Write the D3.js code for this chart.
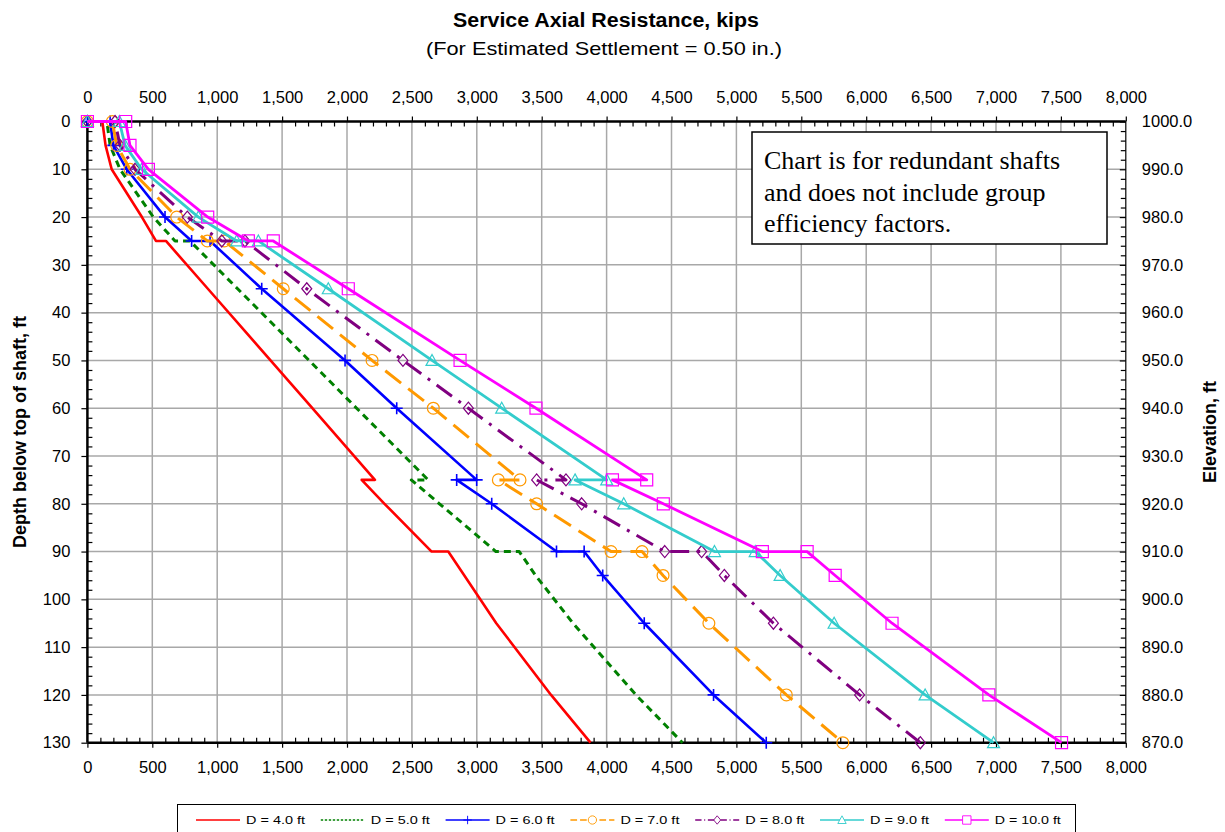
<!DOCTYPE html>
<html>
<head>
<meta charset="utf-8">
<script src="https://cdn.jsdelivr.net/npm/d3@7"></script>
<style>
  body { margin: 0; background: #fff; }
  svg { display: block; font-family: "Liberation Sans", Arial, sans-serif; }
  text { fill: #000; }
</style>
</head>
<body>
<svg id="chart" width="1225" height="832"></svg>
<script>
// Depth below top of shaft (ft) for every point of each curve.
// Repeated depths mark the steps where the resistance jumps at a layer boundary.
const depths = [0, 0, 5, 10, 20, 25, 25, 35, 50, 60, 75, 75, 80, 90, 90, 95, 105, 120, 130];

// Service axial resistance (kips) per shaft diameter
const loadD4  = [0, 115, 140, 187, 420, 528, 605, 928, 1411, 1733, 2215, 2113, 2289, 2652, 2780, 2904, 3150, 3572, 3876];
const loadD5  = [0, 150, 175, 251, 508, 675, 790, 1157, 1708, 2074, 2625, 2495, 2712, 3147, 3327, 3453, 3741, 4226, 4585];
const loadD6  = [0, 175, 200, 303, 598, 803, 945, 1343, 1985, 2383, 2999, 2845, 3115, 3614, 3827, 3970, 4290, 4824, 5230];
const loadD7  = [0, 192, 226, 328, 688, 924, 1055, 1509, 2193, 2665, 3333, 3166, 3461, 4034, 4273, 4435, 4788, 5385, 5820];
const loadD8  = [0, 213, 251, 367, 770, 1035, 1214, 1690, 2431, 2935, 3687, 3461, 3808, 4448, 4732, 4907, 5285, 5949, 6417];
const loadD9  = [0, 246, 290, 418, 855, 1150, 1317, 1856, 2655, 3192, 4001, 3757, 4132, 4831, 5145, 5337, 5753, 6454, 6981];
const loadD10 = [0, 295, 328, 470, 927, 1240, 1432, 2010, 2871, 3456, 4309, 4045, 4437, 5200, 5545, 5761, 6199, 6945, 7505];

const seriesNames = ["D = 4.0 ft", "D = 5.0 ft", "D = 6.0 ft", "D = 7.0 ft", "D = 8.0 ft", "D = 9.0 ft", "D = 10.0 ft"];

// Axis tick values
const loadTicks = d3.range(0, 8001, 500);
const depthTicks = d3.range(0, 131, 10);
const elevationLabels = ["1000.0", "990.0", "980.0", "970.0", "960.0", "950.0", "940.0", "930.0", "920.0", "910.0", "900.0", "890.0", "880.0", "870.0"];

const noteLines = ["Chart is for redundant shafts", "and does not include group", "efficiency factors."];

const svg = d3.select("#chart");

const x = d3.scaleLinear().domain([0, 8000]).range([87.4, 1125.8]);
const y = d3.scaleLinear().domain([0, 130]).range([121.5, 742.7]);

// ---- grid ----
const grid = svg.append("g").attr("stroke", "#a8a8a8").attr("stroke-width", 1.5);
grid.selectAll("line.v").data(loadTicks.slice(1, -1)).join("line")
  .attr("x1", d => x(d)).attr("x2", d => x(d))
  .attr("y1", y(0)).attr("y2", y(130));
grid.selectAll("line.h").data(depthTicks.slice(1, -1)).join("line")
  .attr("x1", x(0)).attr("x2", x(8000))
  .attr("y1", d => y(d)).attr("y2", d => y(d));

// ---- axes (ticks drawn through d3 axis generators) ----
const fmt = d3.format(",");
const minorLoad = d3.range(0, 8001, 100).filter(d => d % 500 !== 0);
const minorDepth = d3.range(0, 131, 2).filter(d => d % 10 !== 0);

function styleAxis(g) {
  g.attr("font-family", null);
  g.select(".domain").remove();
  g.selectAll(".tick line").attr("stroke", "#000").attr("stroke-width", 1.2);
  g.selectAll("text").attr("font-size", 16.5).attr("fill", "#000");
}

// top
svg.append("g").attr("transform", `translate(0,${y(0)})`)
  .call(d3.axisTop(x).tickValues(minorLoad).tickSize(-5).tickFormat(""))
  .call(styleAxis);
svg.append("g").attr("transform", `translate(0,${y(0)})`)
  .call(d3.axisTop(x).tickValues(loadTicks).tickSizeInner(5).tickSizeOuter(0).tickPadding(14).tickFormat(fmt))
  .call(styleAxis);
// bottom
svg.append("g").attr("transform", `translate(0,${y(130)})`)
  .call(d3.axisBottom(x).tickValues(minorLoad).tickSize(-5).tickFormat(""))
  .call(styleAxis);
svg.append("g").attr("transform", `translate(0,${y(130)})`)
  .call(d3.axisBottom(x).tickValues(loadTicks).tickSizeInner(5).tickSizeOuter(0).tickPadding(14).tickFormat(fmt))
  .call(styleAxis);
// left
svg.append("g").attr("transform", `translate(${x(0)},0)`)
  .call(d3.axisLeft(y).tickValues(minorDepth).tickSize(-5).tickFormat(""))
  .call(styleAxis);
svg.append("g").attr("transform", `translate(${x(0)},0)`)
  .call(d3.axisLeft(y).tickValues(depthTicks).tickSizeInner(6).tickSizeOuter(0).tickPadding(11))
  .call(styleAxis);
// right (elevation)
svg.append("g").attr("transform", `translate(${x(8000)},0)`)
  .call(d3.axisRight(y).tickValues(minorDepth).tickSize(-5).tickFormat(""))
  .call(styleAxis);
svg.append("g").attr("transform", `translate(${x(8000)},0)`)
  .call(d3.axisRight(y).tickValues(depthTicks).tickSizeInner(-6).tickSizeOuter(0).tickPadding(16)
    .tickFormat((d, i) => elevationLabels[i]))
  .call(styleAxis);

// plot frame
svg.append("line").attr("x1", x(0)).attr("x2", x(8000)).attr("y1", y(0)).attr("y2", y(0)).attr("stroke", "#000").attr("stroke-width", 2.5);
svg.append("line").attr("x1", x(0)).attr("x2", x(8000)).attr("y1", y(130)).attr("y2", y(130)).attr("stroke", "#000").attr("stroke-width", 2.5);
svg.append("line").attr("x1", x(0)).attr("x2", x(0)).attr("y1", y(0)).attr("y2", y(130)).attr("stroke", "#000").attr("stroke-width", 2.5);
svg.append("line").attr("x1", x(8000)).attr("x2", x(8000)).attr("y1", y(0)).attr("y2", y(130)).attr("stroke", "#000").attr("stroke-width", 1.2);

// ---- series ----
const markers = {
  none: null,
  plus: "M-6,0H6M0,-6V6",
  circle: d3.symbol(d3.symbolCircle, 110)(),
  diamond: "M0,-6L5,0L0,6L-5,0Z",
  triangle: "M0,-6L6,5H-6Z",
  square: "M-6,-6H6V6H-6Z"
};

const series = [
  { name: seriesNames[0], values: loadD4,  color: "#ff0000", dash: null,       marker: "none",     width: 2.6 },
  { name: seriesNames[1], values: loadD5,  color: "#008000", dash: "7,5",      marker: "none",     width: 3 },
  { name: seriesNames[2], values: loadD6,  color: "#0000ff", dash: null,       marker: "plus",     width: 2.6 },
  { name: seriesNames[3], values: loadD7,  color: "#ff9900", dash: "20,9",     marker: "circle",   width: 3 },
  { name: seriesNames[4], values: loadD8,  color: "#800080", dash: "19,8,3,8", marker: "diamond",  width: 3 },
  { name: seriesNames[5], values: loadD9,  color: "#33cccc", dash: null,       marker: "triangle", width: 2.8 },
  { name: seriesNames[6], values: loadD10, color: "#ff00ff", dash: null,       marker: "square",   width: 2.8 }
];

const line = d3.line().x(d => x(d[0])).y(d => y(d[1]));

series.forEach(s => {
  const pts = s.values.map((v, i) => [v, depths[i]]);
  const g = svg.append("g");
  g.append("path").datum(pts)
    .attr("d", line)
    .attr("fill", "none")
    .attr("stroke", s.color)
    .attr("stroke-width", s.width)
    .attr("stroke-linejoin", "round")
    .attr("stroke-dasharray", s.dash);
  if (markers[s.marker]) {
    g.selectAll("path.m").data(pts).join("path")
      .attr("class", "m")
      .attr("transform", d => `translate(${x(d[0])},${y(d[1])})`)
      .attr("d", markers[s.marker])
      .attr("fill", "none")
      .attr("stroke", s.color)
      .attr("stroke-width", s.marker === "plus" ? 1.6 : 1.2);
  }
});

// ---- titles ----
svg.append("text").attr("x", 606).attr("y", 27).attr("text-anchor", "middle")
  .attr("font-size", 20).attr("font-weight", "bold")
  .attr("textLength", 306).attr("lengthAdjust", "spacingAndGlyphs")
  .text("Service Axial Resistance, kips");
svg.append("text").attr("x", 604).attr("y", 55).attr("text-anchor", "middle")
  .attr("font-size", 19)
  .attr("textLength", 356).attr("lengthAdjust", "spacingAndGlyphs")
  .text("(For Estimated Settlement = 0.50 in.)");
svg.append("text").attr("transform", `translate(26,${(y(0) + y(130)) / 2}) rotate(-90)`)
  .attr("text-anchor", "middle").attr("font-size", 18).attr("font-weight", "bold")
  .text("Depth below top of shaft, ft");
svg.append("text").attr("transform", `translate(1216,${(y(0) + y(130)) / 2}) rotate(-90)`)
  .attr("text-anchor", "middle").attr("font-size", 18).attr("font-weight", "bold")
  .text("Elevation, ft");

// ---- note box ----
const note = svg.append("g");
note.append("rect").attr("x", 752).attr("y", 132).attr("width", 355).attr("height", 112)
  .attr("fill", "#fff").attr("stroke", "#000").attr("stroke-width", 1.5);
note.selectAll("text").data(noteLines).join("text")
  .attr("x", 764).attr("y", (d, i) => 169 + i * 31.5)
  .style("font-family", "'Liberation Serif', 'Times New Roman', serif")
  .attr("font-size", 26)
  .text(d => d);

// ---- legend ----
const legend = svg.append("g");
legend.append("rect").attr("x", 177.5).attr("y", 804.5).attr("width", 898).attr("height", 40)
  .attr("fill", "#fff").attr("stroke", "#000").attr("stroke-width", 1);
series.forEach((s, i) => {
  const x0 = 196 + i * 124.8;
  const g = legend.append("g").attr("transform", `translate(${x0},820)`);
  g.append("line").attr("x1", 0).attr("x2", 44).attr("y1", 0).attr("y2", 0)
    .attr("stroke", s.color).attr("stroke-width", 1.3)
    .attr("stroke-dasharray", s.dash ? s.dash.split(",").map(v => v / 3).join(",") : null);
  if (markers[s.marker]) {
    g.append("path").attr("transform", "translate(22,0) scale(0.7)")
      .attr("d", markers[s.marker]).attr("fill", "#fff")
      .attr("stroke", s.color).attr("stroke-width", 1.3);
  }
  g.append("text").attr("x", 50).attr("y", 4).attr("font-size", 11.5)
    .attr("textLength", i === 6 ? 66 : 59).attr("lengthAdjust", "spacingAndGlyphs")
    .text(s.name);
});
</script>
</body>
</html>
